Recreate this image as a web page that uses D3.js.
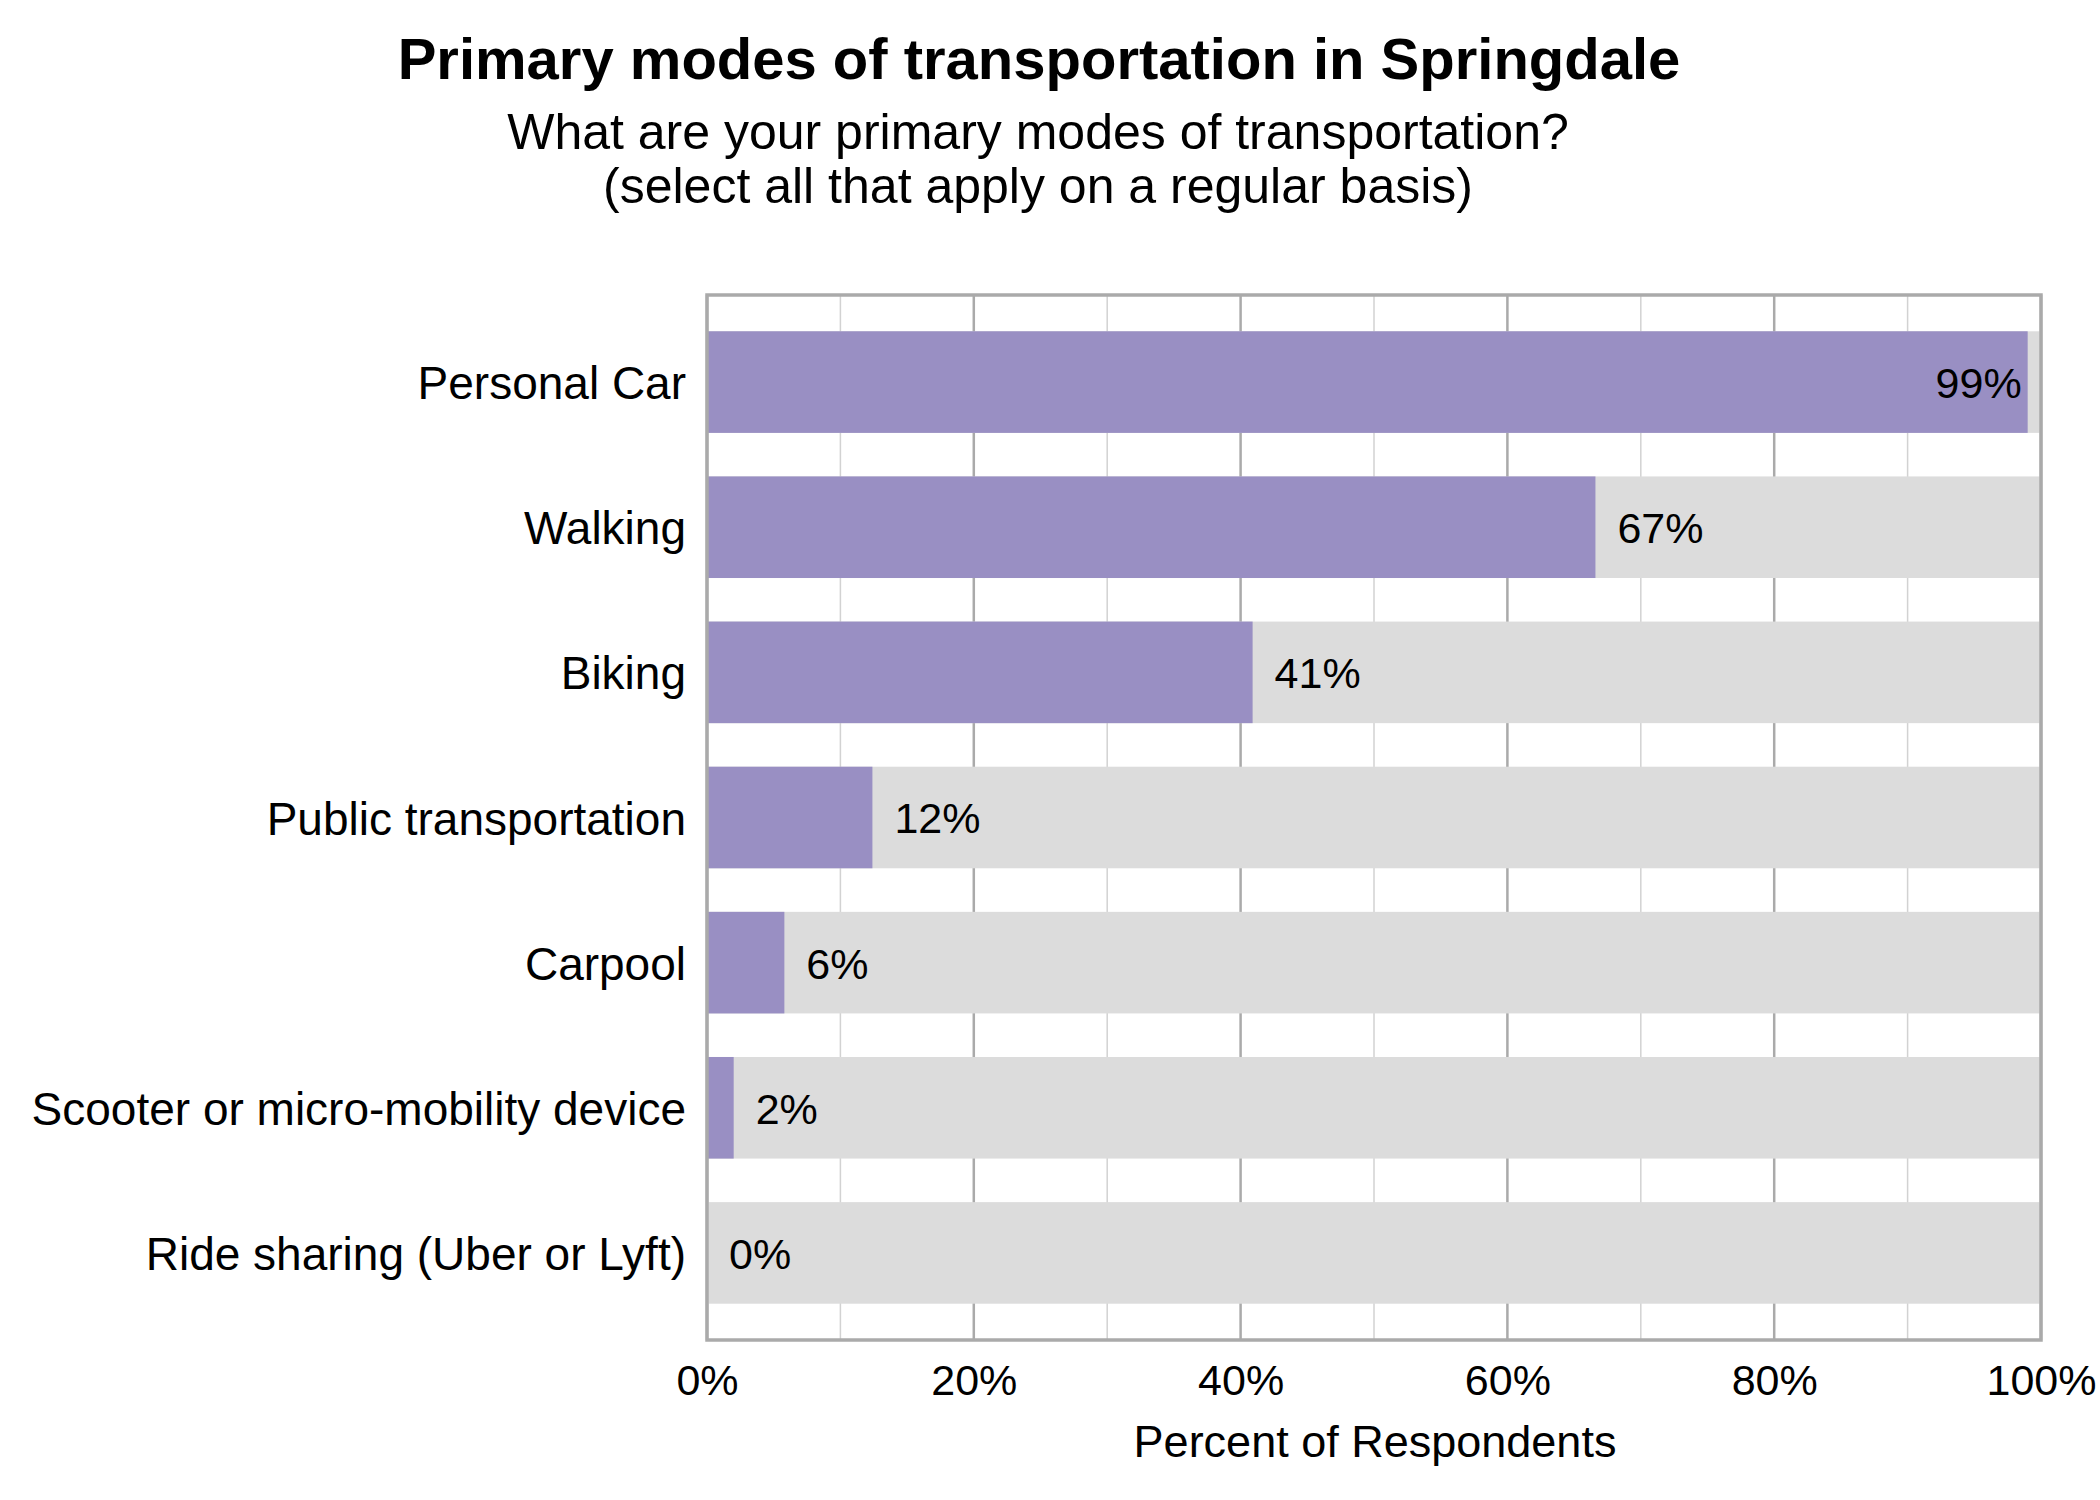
<!DOCTYPE html>
<html>
<head>
<meta charset="utf-8">
<script src="https://cdn.jsdelivr.net/npm/d3@7"></script>
<style>
  body { margin: 0; background: #fff; }
  text { font-family: "Liberation Sans", Arial, sans-serif; fill: #000; }
</style>
</head>
<body>
<svg id="chart" width="2100" height="1500"></svg>
<script>
var modes = ["Personal Car", "Walking", "Biking", "Public transportation", "Carpool",
             "Scooter or micro-mobility device", "Ride sharing (Uber or Lyft)"]
var percents = [99.0, 66.6, 40.9, 12.4, 5.8, 2.0, 0]
var tickValues = [0, 20, 40, 60, 80, 100]
var minorTicks = [10, 30, 50, 70, 90]

// plot frame (note: "top" is taken by window.top)
var plotLeft = 707, plotRight = 2041, plotTop = 295, plotBottom = 1340

var svg = d3.select("#chart")

var x = d3.scaleLinear().domain([0, 100]).range([plotLeft, plotRight])
var y = d3.scaleBand().domain(modes).range([plotTop, plotBottom])
    .paddingInner(0.3).paddingOuter(0.25)

// titles
svg.append("text")
    .attr("x", 1039).attr("y", 79)
    .attr("text-anchor", "middle")
    .style("font-size", "58px").style("font-weight", "bold")
    .text("Primary modes of transportation in Springdale")

svg.append("text")
    .attr("x", 1038).attr("y", 149)
    .attr("text-anchor", "middle")
    .style("font-size", "50px")
    .text("What are your primary modes of transportation?")

svg.append("text")
    .attr("x", 1038).attr("y", 203)
    .attr("text-anchor", "middle")
    .style("font-size", "50px")
    .text("(select all that apply on a regular basis)")

// grid
let grid = svg.append("g")
grid.selectAll("line.minor")
    .data(minorTicks)
    .enter().append("line")
    .attr("class", "minor")
    .attr("x1", d => x(d)).attr("x2", d => x(d))
    .attr("y1", plotTop).attr("y2", plotBottom)
    .attr("stroke", "#d2d2d2").attr("stroke-width", 1.5)

grid.selectAll("line.major")
    .data(tickValues)
    .enter().append("line")
    .attr("class", "major")
    .attr("x1", d => x(d)).attr("x2", d => x(d))
    .attr("y1", plotTop).attr("y2", plotBottom)
    .attr("stroke", "#aaaaaa").attr("stroke-width", 2.5)

// background bars (100%) and value bars
let bars = svg.append("g")
bars.selectAll("rect.bg")
    .data(modes)
    .enter().append("rect")
    .attr("class", "bg")
    .attr("x", x(0))
    .attr("y", d => y(d))
    .attr("width", x(100) - x(0))
    .attr("height", y.bandwidth())
    .attr("fill", "#dcdcdc")

bars.selectAll("rect.val")
    .data(percents)
    .enter().append("rect")
    .attr("class", "val")
    .attr("x", x(0))
    .attr("y", (d, i) => y(modes[i]))
    .attr("width", d => x(d) - x(0))
    .attr("height", y.bandwidth())
    .attr("fill", "#998fc3")

// value labels
bars.selectAll("text")
    .data(percents)
    .enter().append("text")
    .attr("x", d => d > 90 ? x(d) - 6 : x(d) + 22)
    .attr("y", (d, i) => y(modes[i]) + y.bandwidth() / 2)
    .attr("dy", "0.37em")
    .attr("text-anchor", d => d > 90 ? "end" : "start")
    .style("font-size", "43px")
    .text(d => Math.round(d) + "%")

// frame
svg.append("rect")
    .attr("x", plotLeft).attr("y", plotTop)
    .attr("width", plotRight - plotLeft).attr("height", plotBottom - plotTop)
    .attr("fill", "none")
    .attr("stroke", "#aaaaaa").attr("stroke-width", 3.5)

// category axis
let yAxis = svg.append("g")
    .attr("transform", "translate(" + plotLeft + ",0)")
    .call(d3.axisLeft(y).tickSize(0).tickPadding(21))
yAxis.select(".domain").remove()
yAxis.selectAll("text")
    .attr("dy", "0.37em")
    .style("font-size", "46px")
    .style("font-family", "Liberation Sans, Arial, sans-serif")
    .attr("fill", "#000")

// percent axis
let xAxis = svg.append("g")
    .attr("transform", "translate(0," + plotBottom + ")")
    .call(d3.axisBottom(x).tickValues(tickValues).tickSize(0).tickPadding(24)
      .tickFormat(d => d + "%"))
xAxis.select(".domain").remove()
xAxis.selectAll("text")
    .attr("dy", "0.71em")
    .style("font-size", "43px")
    .style("font-family", "Liberation Sans, Arial, sans-serif")
    .attr("fill", "#000")

svg.append("text")
    .attr("x", 1375).attr("y", 1457)
    .attr("text-anchor", "middle")
    .style("font-size", "45px")
    .text("Percent of Respondents")
</script>
</body>
</html>
